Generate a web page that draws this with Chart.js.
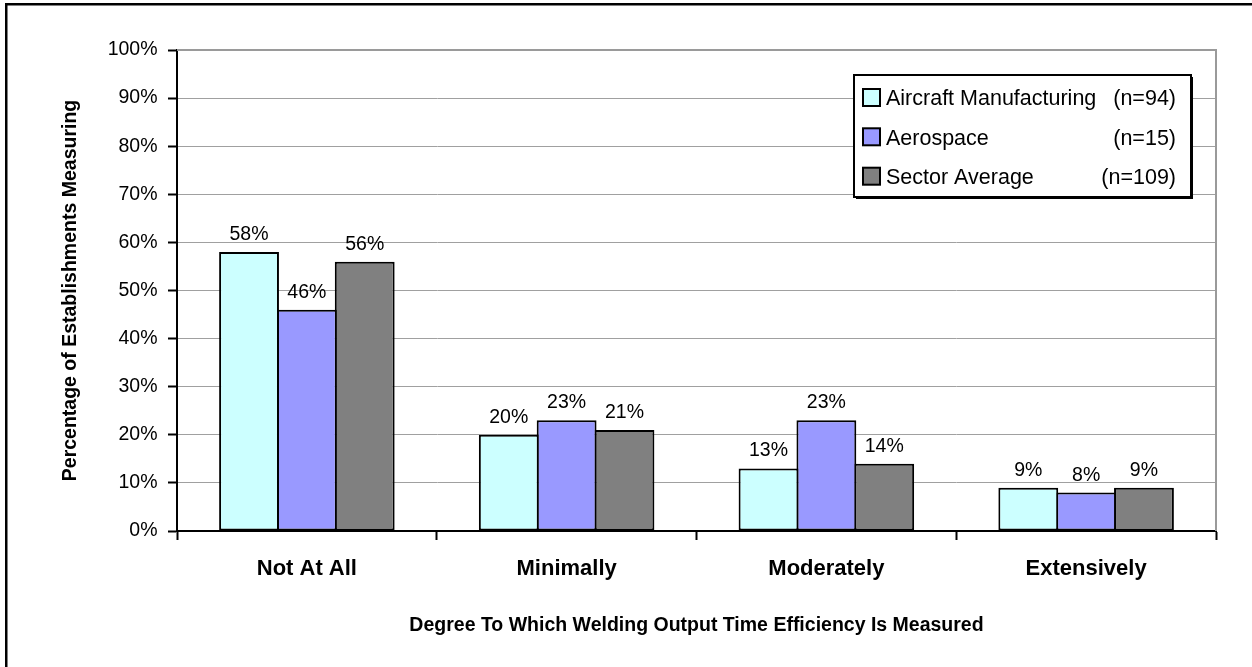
<!DOCTYPE html>
<html>
<head>
<meta charset="utf-8">
<script src="https://cdn.jsdelivr.net/npm/chart.js@4/dist/chart.umd.min.js"></script>
<style>
  html, body { margin: 0; padding: 0; background: #fff; }
  canvas { display: block; }
</style>
</head>
<body>
<canvas id="c" width="1252" height="667"></canvas>
<script>
const categories = ['Not At All', 'Minimally', 'Moderately', 'Extensively'];
const seriesNames = ['Aircraft Manufacturing', 'Aerospace', 'Sector Average'];
const seriesCounts = ['(n=94)', '(n=15)', '(n=109)'];
const aircraftValues = [58, 20, 13, 9];
const aerospaceValues = [46, 23, 23, 8];
const sectorValues = [56, 21, 14, 9];
const yTickValues = [0, 10, 20, 30, 40, 50, 60, 70, 80, 90, 100];
const seriesColors = ['#CCFFFF', '#9999FF', '#808080'];

const FONT = '"Liberation Sans", Arial, Helvetica, sans-serif';

const framePlugin = {
  id: 'frame',
  beforeDraw(chart) {
    const ctx = chart.ctx;
    ctx.save();
    ctx.fillStyle = '#ffffff';
    ctx.fillRect(0, 0, chart.width, chart.height);
    ctx.fillStyle = '#000000';
    ctx.fillRect(5, 3, 2.5, chart.height - 3);
    ctx.fillRect(5, 3, chart.width - 5, 2.5);
    ctx.restore();
  },
  beforeDatasetsDraw(chart) {
    const a = chart.chartArea;
    const ctx = chart.ctx;
    ctx.save();
    ctx.strokeStyle = '#9a9a9a';
    ctx.lineWidth = 2;
    ctx.beginPath();
    ctx.moveTo(a.left, a.top);
    ctx.lineTo(a.right, a.top);
    ctx.lineTo(a.right, a.bottom);
    ctx.stroke();
    ctx.restore();
  },
  afterDatasetsDraw(chart) {
    const ctx = chart.ctx;
    ctx.save();
    ctx.font = '19.5px ' + FONT;
    ctx.fillStyle = '#000';
    ctx.textAlign = 'center';
    ctx.textBaseline = 'alphabetic';
    chart.data.datasets.forEach((ds, i) => {
      const meta = chart.getDatasetMeta(i);
      meta.data.forEach((bar, j) => {
        ctx.fillText(ds.data[j] + '%', bar.x, bar.y - 12);
      });
    });
    ctx.restore();
  },
  afterDraw(chart) {
    const ctx = chart.ctx;
    ctx.save();
    const L = 854, T = 75, R = 1191, B = 197;
    ctx.fillStyle = '#000';
    ctx.fillRect(L + 2, T + 2, R - L, B - T);
    ctx.fillStyle = '#fff';
    ctx.fillRect(L, T, R - L, B - T);
    ctx.strokeStyle = '#000';
    ctx.lineWidth = 2;
    ctx.strokeRect(L, T, R - L, B - T);
    const rows = [97.5, 136.8, 176.2];
    ctx.font = '21.5px ' + FONT;
    ctx.textBaseline = 'alphabetic';
    chart.data.datasets.forEach((ds, i) => {
      const cy = rows[i];
      ctx.fillStyle = ds.backgroundColor;
      ctx.fillRect(863, cy - 8.5, 17, 17);
      ctx.strokeStyle = '#000';
      ctx.lineWidth = 2;
      ctx.strokeRect(863, cy - 8.5, 17, 17);
      ctx.fillStyle = '#000';
      ctx.textAlign = 'left';
      ctx.fillText(ds.label, 886, cy + 7.7);
      ctx.textAlign = 'right';
      ctx.fillText(seriesCounts[i], 1176, cy + 7.7);
    });
    ctx.restore();
  }
};

const datasets = [aircraftValues, aerospaceValues, sectorValues].map((vals, i) => ({
  label: seriesNames[i],
  data: vals,
  backgroundColor: seriesColors[i],
  borderColor: '#000',
  borderWidth: 2,
  borderSkipped: false,
  barPercentage: 1.035,
  categoryPercentage: 0.668
}));

new Chart(document.getElementById('c'), {
  type: 'bar',
  data: { labels: categories, datasets },
  options: {
    responsive: false,
    animation: false,
    devicePixelRatio: 1,
    layout: { padding: { left: 0, top: 50, right: 36, bottom: 0 } },
    plugins: {
      legend: { display: false },
      tooltip: { enabled: false },
      title: { display: false }
    },
    scales: {
      x: {
        afterFit(scale) { scale.height = 136; },
        grid: {
          offset: true,
          drawOnChartArea: false,
          drawTicks: true,
          tickLength: 9,
          tickColor: '#000',
          tickWidth: 2
        },
        border: { color: '#000', width: 2 },
        ticks: {
          color: '#000',
          padding: 15.5,
          font: { family: FONT, size: 22, weight: 'bold' }
        },
        title: {
          display: true,
          text: 'Degree To Which Welding Output Time Efficiency Is Measured',
          color: '#000',
          font: { family: FONT, size: 19.5, weight: 'bold' },
          padding: { top: 0, bottom: 29.8 }
        }
      },
      y: {
        min: 0,
        max: 100,
        afterFit(scale) { scale.width = 177; },
        afterBuildTicks(scale) { scale.ticks = yTickValues.map(v => ({ value: v })); },
        grid: {
          color: '#a0a0a0',
          lineWidth: 1,
          drawTicks: true,
          tickLength: 9,
          tickColor: '#000',
          tickWidth: 2
        },
        border: { color: '#000', width: 2 },
        ticks: {
          color: '#000',
          padding: 10.5,
          font: { family: FONT, size: 19.5 },
          callback: v => v + '%'
        },
        title: {
          display: true,
          text: 'Percentage of Establishments Measuring',
          color: '#000',
          font: { family: FONT, size: 19.5, weight: 'bold' },
          padding: { top: 58.8, bottom: 0 }
        }
      }
    }
  },
  plugins: [framePlugin]
});
</script>
</body>
</html>
